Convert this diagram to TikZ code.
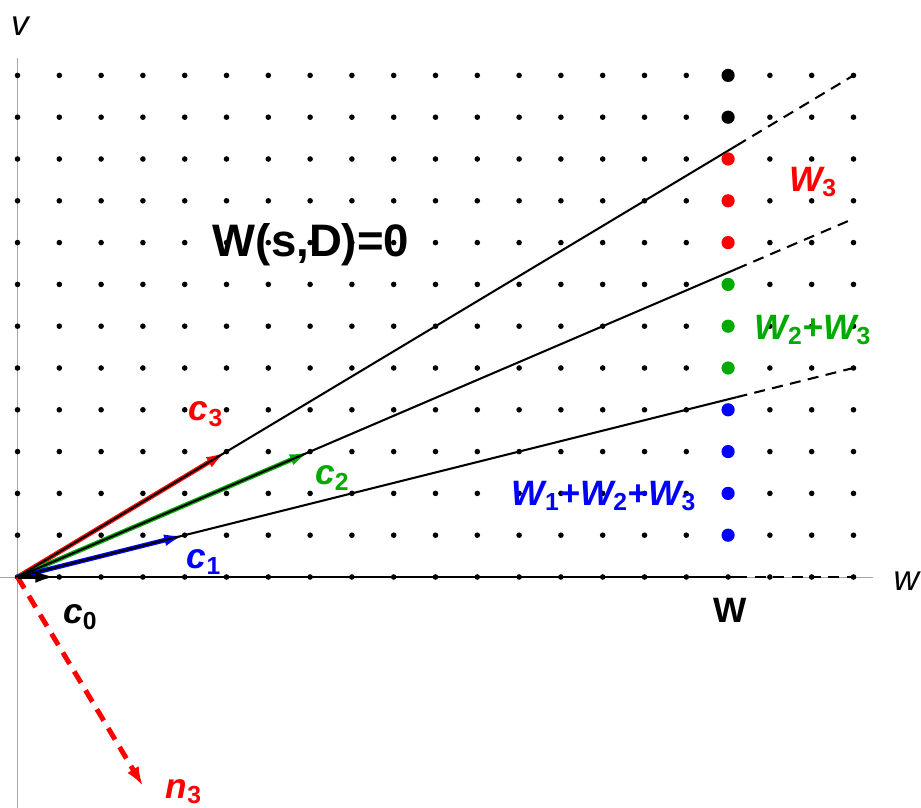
\documentclass[tikz,border=0pt]{standalone}
\usepackage{fontspec}
\setmainfont{Liberation Sans}
\usetikzlibrary{arrows.meta}
\definecolor{dkgreen}{rgb}{0,0.667,0}
\newcommand{\sbs}[1]{\textsubscript{\upshape #1}}

\begin{document}
\begin{tikzpicture}
      \tikzstyle{lbl}=[inner sep=0pt,font=\fontsize{24}{28}\selectfont\bfseries\itshape]
      \tikzstyle{axis}=[gray!70,line width=0.6pt]
      \tikzstyle{vec}=[line width=3.2pt,-{Latex[length=14pt,width=8pt]}]
      \tikzstyle{ray}=[line width=1.4pt]
      \tikzstyle{ext}=[line width=1.4pt,dash pattern=on 7.5pt off 5pt]
      \useasboundingbox (-0.419,-5.526) rectangle (21.615,13.804);
      % axes
      \draw[axis] (-0.419,0) -- (20.47,0);
      \draw[axis] (0,12.42) -- (0,-5.526);
      \node[lbl,font=\fontsize{24}{28}\selectfont\itshape] (lv) at (0.06,13.18) {v};
      \node[lbl,font=\fontsize{24}{28}\selectfont\itshape,anchor=west] (lw) at (20.95,-0.1) {w};
      % lattice
      \foreach \x in {0,...,20}
        \foreach \y in {0,...,12}
          \fill (\x,\y) circle (1.9pt);
      \coordinate (o) at (0,0);
      \coordinate (c0) at (0.92,0);
      \coordinate (c1) at (4,1);
      \coordinate (c2) at (7,3);
      \coordinate (c3) at (5,3);
      \coordinate (n3) at (3,-5);
      \coordinate (r0) at (17.2,0);
      \coordinate (r1) at (17.2,4.3);
      \coordinate (r2) at (17.2,7.371);
      \coordinate (r3) at (17.2,10.32);
      \coordinate (e0) at (20,0);
      \coordinate (e1) at (20,5);
      \coordinate (e2) at (20,8.571);
      \coordinate (e3) at (20,12);
      % generators
      \draw[vec,red] (o) -- (c3);
      \draw[vec,dkgreen] (o) -- (c2);
      \draw[vec,blue] (o) -- (c1);
      \draw[red,line width=3.4pt,dash pattern=on 9pt off 6pt,-{Latex[length=13pt,width=9pt]}] (o) -- (n3);
      % cone walls
      \foreach \i in {0,...,3} {
        \draw[ray] (o) -- (r\i);
        \draw[ext] (r\i) -- (e\i);
      }
      \draw[vec,black] (o) -- (c0);
      % W column
      \foreach \y in {1,...,4} \fill[blue] (17,\y) circle (4.5pt);
      \foreach \y in {5,...,7} \fill[dkgreen] (17,\y) circle (4.5pt);
      \foreach \y in {8,...,10} \fill[red] (17,\y) circle (4.5pt);
      \foreach \y in {11,12} \fill (17,\y) circle (4.5pt);
      % labels
      \node[lbl] (lc0) at (1.50,-0.96) {c\sbs{0}};
      \node[lbl,blue] (lc1) at (4.46,0.36) {c\sbs{1}};
      \node[lbl,dkgreen] (lc2) at (7.53,2.37) {c\sbs{2}};
      \node[lbl,red] (lc3) at (4.51,3.9) {c\sbs{3}};
      \node[lbl,red] (ln3) at (3.98,-5.14) {n\sbs{3}};
      \node[lbl,font=\fontsize{24}{28}\selectfont\bfseries] (lW) at (17.05,-0.79) {W};
      \node[lbl,red] (lW3) at (19.03,9.45) {W\sbs{3}};
      \node[lbl,dkgreen] (lW23) at (19.03,5.91) {W\sbs{2}+W\sbs{3}};
      \node[lbl,blue] (lW123) at (14.03,1.94) {W\sbs{1}+W\sbs{2}+W\sbs{3}};
      \node[inner sep=0pt,font=\fontsize{31}{36}\selectfont\bfseries] (eq) at (7.02,7.94) {W(s,D)=0};
\end{tikzpicture}
\end{document}
